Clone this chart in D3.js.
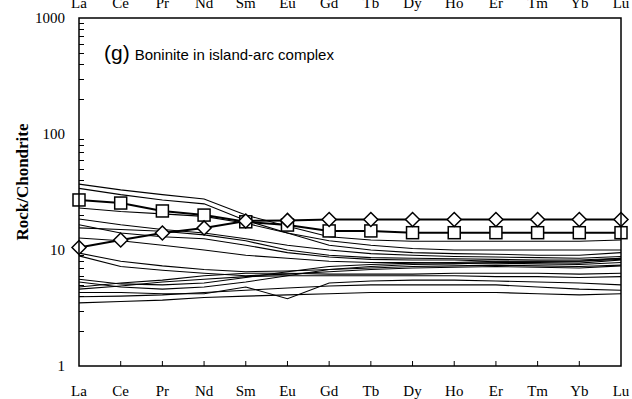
<!DOCTYPE html>
<html>
<head>
<meta charset="UTF-8">
<script src="https://d3js.org/d3.v7.min.js"></script>
<style>
  body { margin: 0; background: #fff; }
  svg text { fill: #000; }
</style>
</head>
<body>
<svg id="chart" width="632" height="399"></svg>
<script>
// REE categories
var elements = ["La","Ce","Pr","Nd","Sm","Eu","Gd","Tb","Dy","Ho","Er","Tm","Yb","Lu"];
var yTicks = [1, 10, 100, 1000];

// thick reference lines
var squareSeries  = [27, 25.4, 21.7, 20, 17.5, 16.4, 14.6, 14.6, 14.1, 14.1, 14.1, 14.1, 14.1, 14.1];
var diamondSeries = [10.5, 12.2, 14, 15.5, 17.8, 18, 18.3, 18.3, 18.3, 18.3, 18.3, 18.3, 18.3, 18.3];

// thin sample lines
var samples = [
  [37, 33, 30, 27.5, 20, 16, 13, 12.2, 11.9, 11.9, 11.9, 11.9, 11.9, 12.2],
  [34, 30, 27, 25, 18, 14, 11, 10, 9.5, 9.3, 9.2, 9, 9, 9.5],
  [23, 21.5, 20.5, 19.5, 17, 14, 12, 11, 10.3, 10, 10, 10, 10, 10],
  [18.5, 16.5, 15, 14, 12.5, 11, 10, 9.3, 9, 8.8, 8.7, 8.6, 8.5, 8.8],
  [15.5, 15, 14.5, 13.5, 12, 10, 9, 8.6, 8.5, 8.4, 8.3, 8.2, 8.2, 8.5],
  [16.5, 14, 13, 12.5, 11, 9.5, 8.7, 8.3, 8.2, 8.2, 8, 8, 8, 8.3],
  [12.7, 12, 11, 10, 9, 8.5, 8, 7.8, 7.8, 7.7, 7.7, 7.6, 7.5, 7.8],
  [9.4, 8, 7.3, 6.8, 6.5, 6.6, 6.8, 7, 7.2, 7.3, 7.4, 7.3, 7.2, 7.4],
  [8.9, 7.2, 6.7, 6.3, 6, 6.2, 6.5, 6.8, 7, 7.1, 7.2, 7.1, 7, 7.3],
  [5.6, 5.1, 5, 5.2, 5.8, 6.5, 7.2, 7.5, 7.7, 7.8, 8, 8, 8, 8.5],
  [5.3, 4.8, 4.6, 4.8, 5.3, 6, 6.8, 7.2, 7.5, 7.6, 7.8, 7.8, 7.7, 8.2],
  [4.8, 5.2, 5.5, 6, 6.3, 6.3, 6.2, 6.2, 6.2, 6.3, 6.3, 6.3, 6.2, 6.3],
  [4.6, 4.9, 5.3, 5.6, 5.9, 6, 6, 6, 6, 6, 5.9, 5.9, 5.8, 5.9],
  [4.3, 4.3, 4.2, 4.2, 4.8, 3.8, 5.2, 5.4, 5.5, 5.5, 5.4, 5.3, 5.2, 5],
  [3.95, 4, 4.1, 4.3, 4.5, 4.7, 4.9, 5, 5, 5, 5, 4.8, 4.6, 4.5],
  [3.5, 3.6, 3.7, 3.9, 4, 4.1, 4.2, 4.3, 4.3, 4.3, 4.3, 4.2, 4.1, 4.2]
];

var mLeft = 79, mRight = 621, mTop = 18, mBottom = 366;
var svg = d3.select("#chart");

var x = d3.scalePoint().domain(elements).range([mLeft, mRight]);
var y = d3.scaleLog().domain([1, 1000]).range([mBottom, mTop]);

var serif = "'Liberation Serif', 'Times New Roman', serif";
var sans = "'Liberation Sans', Arial, sans-serif";

// left axis: minor ticks inside the frame
var minor = [];
for (var d = 1; d < 1000; d *= 10) {
  for (var k = 2; k <= 9; k++) minor.push(d * k);
}
svg.append("g").selectAll("line").data(minor).enter().append("line")
  .attr("x1", mLeft).attr("x2", mLeft + 5)
  .attr("y1", function(v) { return Math.round(y(v)) + 0.5; })
  .attr("y2", function(v) { return Math.round(y(v)) + 0.5; })
  .attr("stroke", "#000").attr("stroke-width", 1);

svg.append("g").selectAll("text").data(yTicks).enter().append("text")
  .attr("x", 65).attr("y", function(v) { return y(v) + 5; })
  .attr("text-anchor", "end")
  .style("font-family", serif).style("font-size", "15px")
  .text(function(v) { return v; });

// bottom ticks
svg.append("g").selectAll("line").data(elements.slice(1, -1)).enter().append("line")
  .attr("x1", function(e) { return x(e); }).attr("x2", function(e) { return x(e); })
  .attr("y1", mBottom).attr("y2", mBottom - 5)
  .attr("stroke", "#000").attr("stroke-width", 1);

// category labels top and bottom
[8, 396].forEach(function(ty) {
  svg.append("g").selectAll("text").data(elements).enter().append("text")
    .attr("x", function(e) { return x(e); }).attr("y", ty)
    .attr("text-anchor", "middle")
    .style("font-family", serif).style("font-size", "15px")
    .text(function(e) { return e; });
});

// y title
svg.append("text")
  .attr("transform", "translate(28,182) rotate(-90)")
  .attr("text-anchor", "middle")
  .style("font-family", serif).style("font-size", "17px").style("font-weight", "bold")
  .text("Rock/Chondrite");

// panel title
var t = svg.append("text").attr("x", 104).attr("y", 60).style("font-family", sans);
t.append("tspan").style("font-size", "21px").text("(g)");
t.append("tspan").style("font-size", "15px").attr("dx", 5).text("Boninite in island-arc complex");

var line = d3.line()
  .x(function(v, i) { return x(elements[i]); })
  .y(function(v) { return y(v); });

var plot = svg.append("g");
plot.selectAll("path.thin").data(samples).enter().append("path")
  .attr("class", "thin")
  .attr("d", line)
  .attr("fill", "none").attr("stroke", "#000").attr("stroke-width", 1.1);

plot.append("path").datum(squareSeries).attr("d", line)
  .attr("fill", "none").attr("stroke", "#000").attr("stroke-width", 2);
plot.append("path").datum(diamondSeries).attr("d", line)
  .attr("fill", "none").attr("stroke", "#000").attr("stroke-width", 2);

var sq = 12;
plot.selectAll("rect.sq").data(squareSeries).enter().append("rect")
  .attr("class", "sq")
  .attr("x", function(v, i) { return x(elements[i]) - sq / 2; })
  .attr("y", function(v) { return y(v) - sq / 2; })
  .attr("width", sq).attr("height", sq)
  .attr("fill", "#fff").attr("stroke", "#000").attr("stroke-width", 1.5);

var dm = 7;
plot.selectAll("path.dm").data(diamondSeries).enter().append("path")
  .attr("class", "dm")
  .attr("d", function(v, i) {
    var cx = x(elements[i]), cy = y(v);
    return "M" + cx + "," + (cy - dm) + "L" + (cx + dm) + "," + cy + "L" + cx + "," + (cy + dm) + "L" + (cx - dm) + "," + cy + "Z";
  })
  .attr("fill", "#fff").attr("stroke", "#000").attr("stroke-width", 1.5);

// frame
svg.append("rect")
  .attr("x", mLeft).attr("y", mTop).attr("width", mRight - mLeft).attr("height", mBottom - mTop)
  .attr("fill", "none").attr("stroke", "#000").attr("stroke-width", 1.5);
</script>
</body>
</html>
